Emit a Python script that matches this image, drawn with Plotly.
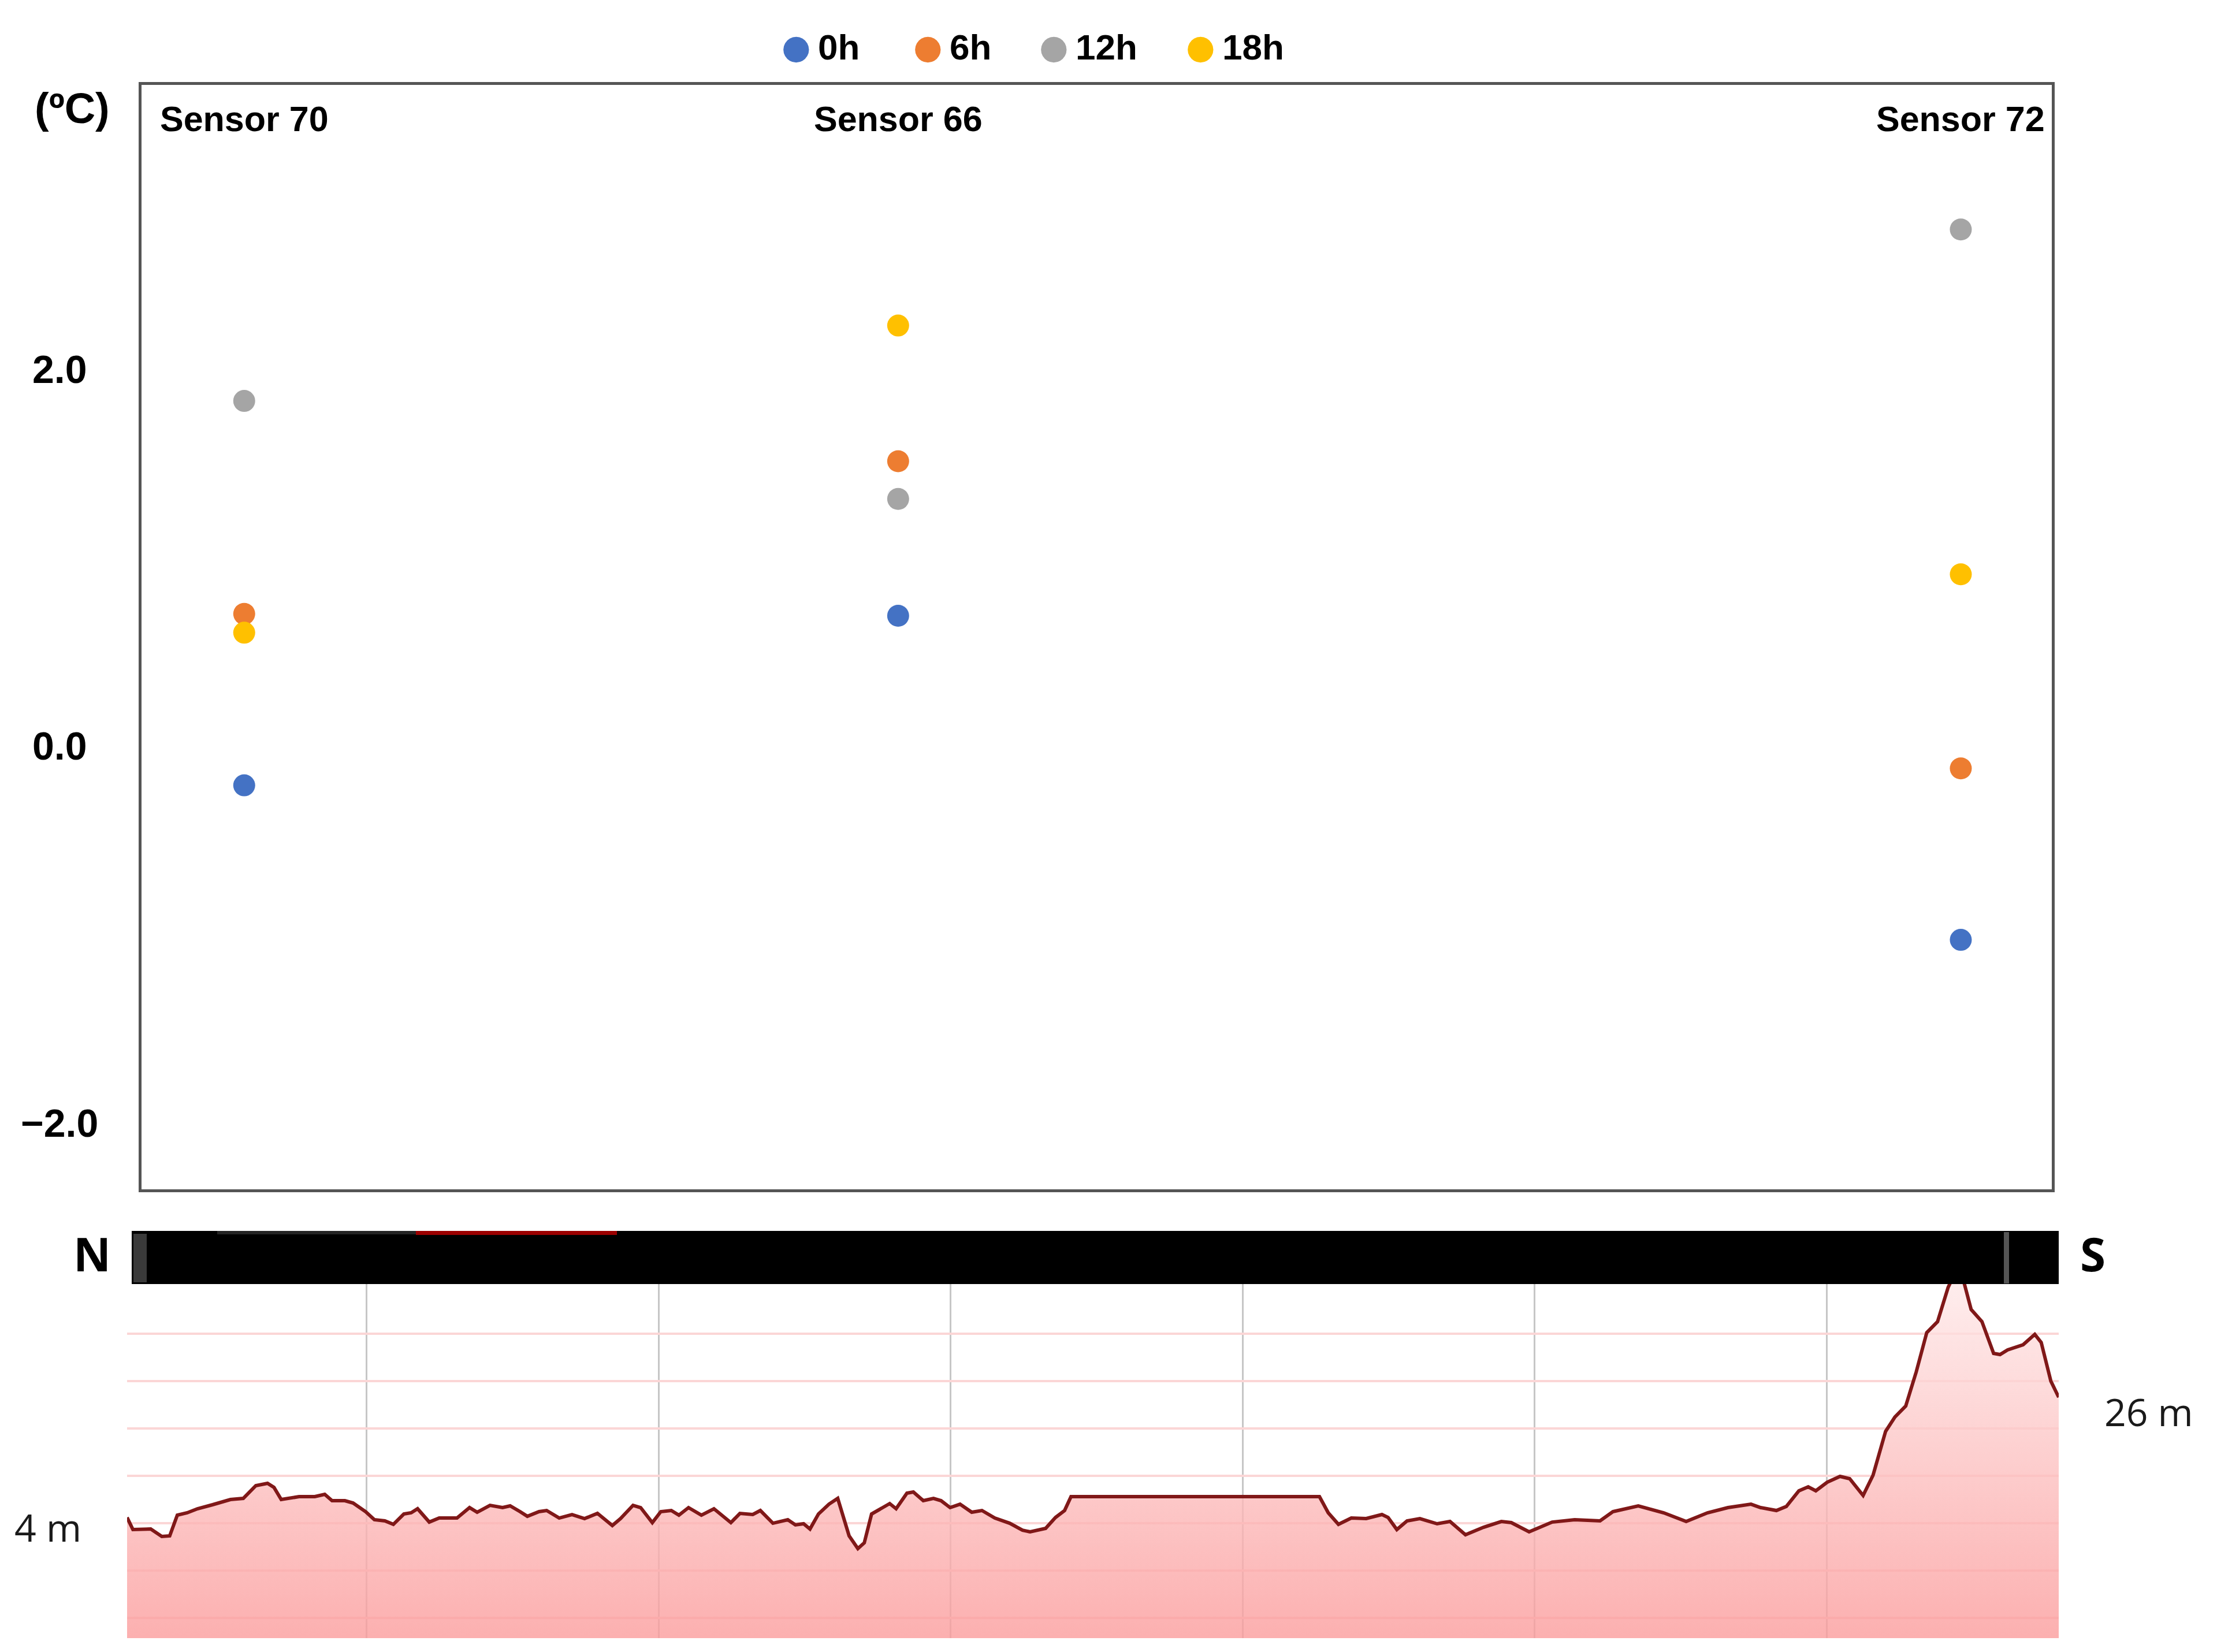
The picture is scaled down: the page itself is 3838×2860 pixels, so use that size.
import plotly.graph_objects as go

# Temperature differences per sensor (ºC)
sensors = ["Sensor 70", "Sensor 66", "Sensor 72"]
sensor_km = [0.58, 2.82, 6.46]
hours = ["0h", "6h", "12h", "18h"]
temp_0h = [-0.21, 0.69, -1.03]
temp_6h = [0.70, 1.51, -0.12]
temp_12h = [1.83, 1.31, 2.74]
temp_18h = [0.60, 2.23, 0.91]
hour_colors = ["#4472C4", "#ED7D31", "#A5A5A5", "#FFC000"]
temp_ticks = [-2.0, 0.0, 2.0]

# Elevation profile along the N-S transect (distance km, elevation m)
profile_km = [
    0.179, 0.199, 0.260, 0.298, 0.325, 0.351, 0.385, 0.420, 0.472, 0.533,
    0.577, 0.620, 0.660, 0.682, 0.707, 0.768, 0.822, 0.856, 0.881, 0.925,
    0.953, 0.996, 1.026, 1.062, 1.091, 1.127, 1.152, 1.174, 1.214, 1.248,
    1.309, 1.352, 1.378, 1.422, 1.465, 1.491, 1.525, 1.550, 1.590, 1.616,
    1.659, 1.703, 1.746, 1.790, 1.841, 1.869, 1.912, 1.938, 1.978, 2.007,
    2.043, 2.069, 2.102, 2.146, 2.189, 2.247, 2.278, 2.322, 2.348, 2.391,
    2.442, 2.468, 2.496, 2.518, 2.547, 2.583, 2.613, 2.652, 2.682, 2.704,
    2.729, 2.765, 2.791, 2.813, 2.850, 2.872, 2.906, 2.941, 2.967, 2.998,
    3.032, 3.072, 3.107, 3.151, 3.202, 3.246, 3.272, 3.325, 3.359, 3.390,
    3.412, 4.263, 4.293, 4.328, 4.372, 4.423, 4.477, 4.498, 4.528, 4.563,
    4.607, 4.666, 4.710, 4.763, 4.825, 4.886, 4.920, 4.981, 5.017, 5.060,
    5.137, 5.224, 5.268, 5.355, 5.442, 5.519, 5.592, 5.662, 5.741, 5.774,
    5.828, 5.862, 5.905, 5.937, 5.963, 6.002, 6.046, 6.079, 6.125, 6.159,
    6.202, 6.234, 6.271, 6.307, 6.343, 6.380, 6.416, 6.443, 6.471, 6.495,
    6.532, 6.572, 6.594, 6.620, 6.673, 6.713, 6.735, 6.768, 6.795,
]
profile_elev = [
    4.00, 1.78, 1.88, 0.51, 0.62, 4.42, 4.85, 5.59, 6.33, 7.28,
    7.49, 9.82, 10.24, 9.50, 7.28, 7.81, 7.81, 8.23, 7.07, 7.07,
    6.64, 5.06, 3.58, 3.37, 2.73, 4.63, 4.85, 5.59, 3.15, 3.89,
    3.89, 5.80, 4.95, 6.22, 5.80, 6.12, 5.06, 4.21, 5.06, 5.27,
    3.89, 4.53, 3.79, 4.74, 2.52, 3.79, 6.22, 5.80, 3.05, 5.06,
    5.27, 4.42, 5.80, 4.42, 5.59, 3.05, 4.74, 4.53, 5.27, 2.94,
    3.58, 2.63, 2.84, 1.88, 4.63, 6.43, 7.49, 0.62, -1.71, -0.65,
    4.63, 5.80, 6.54, 5.59, 8.44, 8.65, 7.07, 7.49, 7.07, 5.80,
    6.43, 4.95, 5.27, 3.89, 2.94, 1.67, 1.36, 1.99, 4.00, 5.27,
    7.81, 7.81, 4.85, 2.73, 3.89, 3.79, 4.53, 4.00, 1.78, 3.37,
    3.79, 2.84, 3.26, 0.83, 2.20, 3.26, 3.05, 1.36, 2.20, 3.15,
    3.58, 3.37, 5.06, 6.12, 4.85, 3.26, 4.85, 5.80, 6.43, 5.80,
    5.27, 6.01, 8.87, 9.61, 8.87, 10.45, 11.51, 11.09, 8.02, 11.72,
    19.76, 22.40, 24.41, 30.65, 37.84, 39.85, 46.09, 49.16, 46.94, 42.07,
    39.85, 34.04, 33.83, 34.67, 35.62, 37.52, 36.04, 28.96, 26.00,
]
assert len(profile_km) == len(profile_elev)

elev_range = [-18.10, 46.73]
elev_grid = [-14.40, -5.73, 2.94, 11.61, 20.29, 28.96, 37.63]

W, H = 3838, 2860
OFF = 8  # page body margin


def px(X):
    # pixel column -> paper x
    return (X - OFF) / W


def py(Y):
    # pixel row (from top) -> paper y
    return 1 - (Y - OFF) / H


SANS = "Liberation Sans, Arial, sans-serif"
OPEN = "Open Sans, sans-serif"

fig = go.Figure()

# Scatter points, one trace per hour
series = [temp_0h, temp_6h, temp_12h, temp_18h]
for name, vals, col in zip(hours, series, hour_colors):
    fig.add_trace(go.Scatter(
        x=sensor_km, y=vals, name=name, mode="markers",
        marker=dict(size=38, color=col, line=dict(width=0)),
        xaxis="x", yaxis="y", showlegend=False,
    ))

# Elevation profile: baseline at axis floor, then the filled profile
fig.add_trace(go.Scatter(
    x=[profile_km[0], profile_km[-1]], y=[elev_range[0], elev_range[0]],
    mode="lines", line=dict(width=0), xaxis="x2", yaxis="y2",
    showlegend=False, hoverinfo="skip",
))
fig.add_trace(go.Scatter(
    x=profile_km, y=profile_elev, mode="lines",
    line=dict(color="#801818", width=6),
    fill="tonexty",
    fillgradient=dict(
        type="vertical", start=elev_range[0], stop=elev_range[1],
        colorscale=[[0, "rgba(251,156,156,0.8)"], [1, "rgba(254,232,232,0.8)"]],
    ),
    xaxis="x2", yaxis="y2", showlegend=False,
))

frame = dict(showline=True, mirror=True, linecolor="#555555", linewidth=5,
             showgrid=False, zeroline=False)

fig.update_layout(
    width=W, height=H,
    margin=dict(l=0, r=0, t=0, b=0),
    paper_bgcolor="white", plot_bgcolor="white",
    xaxis=dict(domain=[px(245), px(3552)], range=[0.2283, 6.7717],
               showticklabels=False, ticks="", **frame),
    yaxis=dict(domain=[py(2059), py(147)], range=[-2.354, 3.507],
               showticklabels=False, ticks="", **frame),
    xaxis2=dict(domain=[px(220), px(3564)], range=[0.179, 6.795], anchor="y2",
                showgrid=True, gridcolor="#c6c6c6", gridwidth=2.5,
                tick0=0, dtick=1, showticklabels=False, ticks="",
                zeroline=False, showline=False),
    yaxis2=dict(domain=[py(2836), py(2223)], range=elev_range, anchor="x2",
                showgrid=True, gridcolor="#fbd6d6", gridwidth=4,
                tickvals=elev_grid, showticklabels=False, ticks="",
                zeroline=False, showline=False),
)

# Black route bar above the profile, with its small marks
def rect(x0, x1, y0, y1, color):
    return dict(type="rect", xref="paper", yref="paper",
                x0=px(x0), x1=px(x1), y0=py(y1), y1=py(y0),
                fillcolor=color, line=dict(width=0), layer="above")


shapes = [
    rect(228, 3564, 2131, 2223, "black"),
    rect(231, 254, 2136, 2220, "#3a3a3a"),
    rect(3469, 3478, 2133, 2222, "#555555"),
    rect(376, 720, 2131, 2137, "#242424"),
    rect(720, 1068, 2131, 2138, "#9b0000"),
]
fig.update_layout(shapes=shapes)

ann = []
# Custom legend (large round markers like the original)
legend_px = [1378, 1606, 1824, 2078]
for name, col, lx in zip(hours, hour_colors, legend_px):
    ann.append(dict(text="●", x=px(lx), y=py(81), xref="paper", yref="paper",
                    xanchor="center", yanchor="middle", showarrow=False,
                    font=dict(family="DejaVu Sans", size=58, color=col)))
    ann.append(dict(text=name, x=px(lx + 36), y=py(81), xref="paper", yref="paper",
                    xanchor="left", yanchor="middle", showarrow=False,
                    font=dict(family=SANS, size=62, color="black", weight="bold")))

# Temperature tick labels, centred like the original
for v in temp_ticks:
    ann.append(dict(text=f"{v:.1f}".replace("-", "−"), x=px(103), xref="paper",
                    y=v, yref="y", xanchor="center", yanchor="middle", showarrow=False,
                    font=dict(family=SANS, size=68, color="black", weight="bold")))

# Sensor names above their columns
for s, xk in zip(sensors, sensor_km):
    ann.append(dict(text=s, x=xk, xref="x", y=py(206), yref="paper",
                    xanchor="center", yanchor="middle", showarrow=False,
                    font=dict(family=SANS, size=61, color="black", weight="bold")))

ann += [
    dict(text="(ºC)", x=px(125), y=py(188), xref="paper", yref="paper",
         xanchor="center", yanchor="middle", showarrow=False,
         font=dict(family=SANS, size=74, color="black", weight="bold")),
    dict(text="N", x=px(159), y=py(2169), xref="paper", yref="paper",
         xanchor="center", yanchor="middle", showarrow=False,
         font=dict(family=OPEN, size=80, color="black", weight="bold")),
    dict(text="S", x=px(3623), y=py(2169), xref="paper", yref="paper",
         xanchor="center", yanchor="middle", showarrow=False,
         font=dict(family=OPEN, size=80, color="black", weight="bold")),
    dict(text="4 m", x=px(83), y=py(2643), xref="paper", yref="paper",
         xanchor="center", yanchor="middle", showarrow=False,
         font=dict(family=OPEN, size=66, color="#1a1a1a")),
    dict(text="26 m", x=px(3720), y=py(2443), xref="paper", yref="paper",
         xanchor="center", yanchor="middle", showarrow=False,
         font=dict(family=OPEN, size=66, color="#1a1a1a")),
]
fig.update_layout(annotations=ann)

fig.write_html("out.html")
